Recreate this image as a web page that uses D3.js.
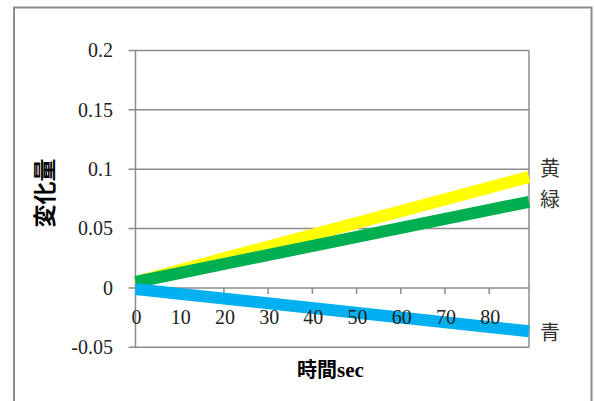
<!DOCTYPE html>
<html>
<head>
<meta charset="utf-8">
<script src="https://cdn.jsdelivr.net/npm/d3@7"></script>
<style>
  html, body { margin: 0; padding: 0; background: #fff; }
  svg { display: block; }
</style>
</head>
<body>
<svg id="chart" width="594" height="401"></svg>
<script>
// Elapsed time (sec) at the start and end of each measured run
const timeSec = [0, 89];
// Change of each colour channel over time
const seriesNames = ["黄", "緑", "青"];
const yellowValues = [0.005, 0.0935];
const greenValues = [0.005, 0.0725];
const blueValues = [-0.001, -0.0365];
const seriesColors = ["#ffff00", "#00b050", "#00b0f0"];
// Axis ticks
const xTicks = [0, 10, 20, 30, 40, 50, 60, 70, 80];
const yTicks = [-0.05, 0, 0.05, 0.1, 0.15, 0.2];
const yTickLabels = ["-0.05", "0", "0.05", "0.1", "0.15", "0.2"];

const svg = d3.select("#chart");
const plot = { left: 135.5, right: 529, top: 50.5, bottom: 347.3 };
const gridColor = "#8c8c8c";
const numFont = "'Liberation Serif', serif";
const cjkFont = "'Noto Sans CJK JP', sans-serif";

// Outer chart frame
svg.append("rect")
  .attr("x", 14).attr("y", 7.5)
  .attr("width", 577.5).attr("height", 420)
  .attr("fill", "none").attr("stroke", gridColor).attr("stroke-width", 2);

const x = d3.scaleLinear().domain([0, 89]).range([plot.left, plot.right]);
const y = d3.scaleLinear().domain([-0.05, 0.2]).range([plot.bottom, plot.top]);

// Horizontal gridlines (also forming the top and bottom of the plot frame)
svg.append("g").selectAll("line").data(yTicks).join("line")
  .attr("x1", plot.left - 7).attr("x2", plot.right)
  .attr("y1", d => y(d)).attr("y2", d => y(d))
  .attr("stroke", gridColor).attr("stroke-width", 1.5);

// Vertical sides of the plot frame
svg.append("line")
  .attr("x1", plot.left).attr("x2", plot.left)
  .attr("y1", plot.top).attr("y2", plot.bottom)
  .attr("stroke", gridColor).attr("stroke-width", 1.5);
svg.append("line")
  .attr("x1", plot.right).attr("x2", plot.right)
  .attr("y1", plot.top).attr("y2", plot.bottom)
  .attr("stroke", gridColor).attr("stroke-width", 1.5);

// Y tick labels
svg.append("g").selectAll("text").data(yTicks).join("text")
  .attr("x", 113).attr("y", d => y(d))
  .attr("dy", "0.34em")
  .attr("text-anchor", "end")
  .attr("font-family", numFont).attr("font-size", 20)
  .attr("fill", "#222")
  .text((d, i) => yTickLabels[i]);

// X axis tick marks hang below the zero line
svg.append("g").selectAll("line").data(xTicks.filter(d => d > 0)).join("line")
  .attr("x1", d => x(d)).attr("x2", d => x(d))
  .attr("y1", y(0)).attr("y2", y(0) + 6)
  .attr("stroke", gridColor).attr("stroke-width", 1.5);

// Data lines
const lineGen = d3.line().x((d, i) => x(timeSec[i])).y(d => y(d));
const seriesValues = [yellowValues, greenValues, blueValues];
svg.append("g").selectAll("path").data(seriesValues).join("path")
  .attr("d", d => lineGen(d))
  .attr("fill", "none")
  .attr("stroke", (d, i) => seriesColors[i])
  .attr("stroke-width", 12)
  .attr("stroke-linecap", "butt");

// X tick labels (drawn over the lines)
svg.append("g").selectAll("text").data(xTicks).join("text")
  .attr("x", d => x(d) + 1).attr("y", 317)
  .attr("dy", "0.34em")
  .attr("text-anchor", "middle")
  .attr("font-family", numFont).attr("font-size", 20)
  .attr("fill", "#222")
  .text(d => d);

// Series labels at the right end of each line
const labelY = [169, 200, 333];
svg.append("g").selectAll("text").data(seriesNames).join("text")
  .attr("x", 540).attr("y", (d, i) => labelY[i])
  .attr("dy", "0.36em")
  .attr("font-family", cjkFont).attr("font-size", 20)
  .attr("fill", "#333")
  .text(d => d);

// Axis titles
const xTitle = svg.append("text")
  .attr("x", 297).attr("y", 370).attr("dy", "0.36em")
  .attr("font-size", 20).attr("font-weight", "bold")
  .attr("fill", "#000");
xTitle.append("tspan").attr("font-family", cjkFont).text("時間");
xTitle.append("tspan").attr("font-family", numFont).attr("font-size", 21).text("sec");

svg.append("text")
  .attr("transform", "translate(45,193) rotate(-90)")
  .attr("dy", "0.36em")
  .attr("text-anchor", "middle")
  .attr("font-family", cjkFont).attr("font-size", 23).attr("font-weight", "bold")
  .attr("fill", "#000")
  .text("変化量");
</script>
</body>
</html>
